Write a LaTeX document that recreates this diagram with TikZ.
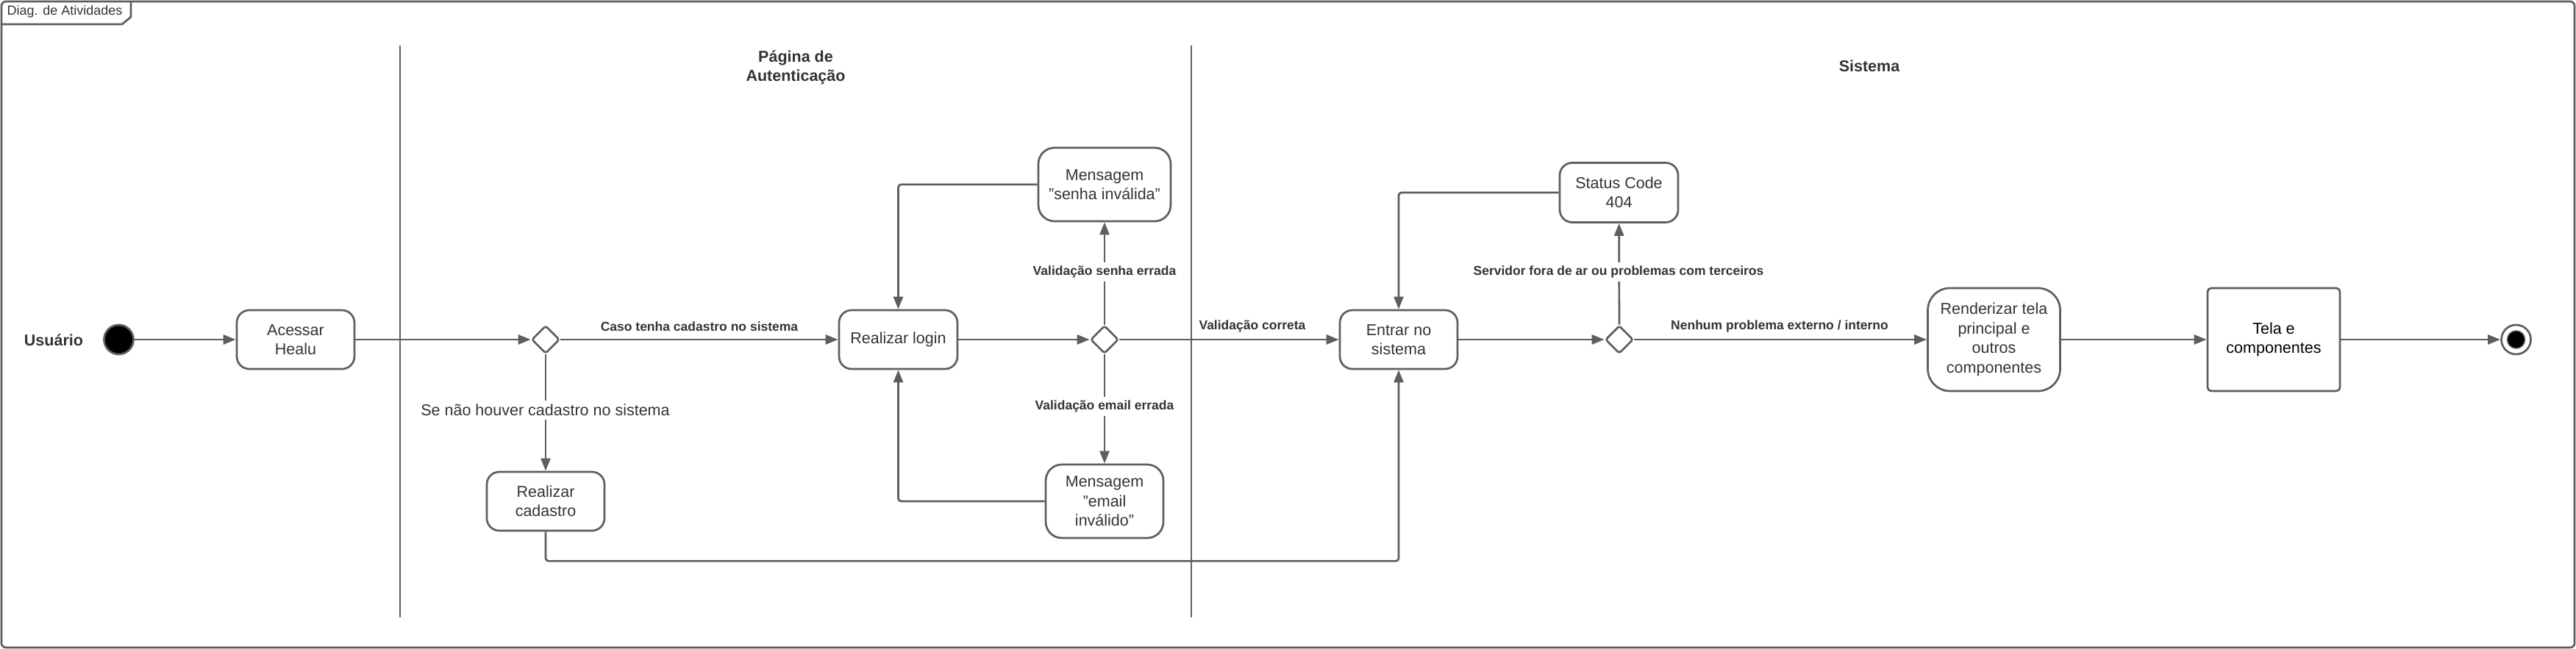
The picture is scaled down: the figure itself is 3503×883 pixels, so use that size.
\documentclass[tikz,border=0pt]{standalone}
\usepackage{fontspec}
\setmainfont{Liberation Sans}
\usetikzlibrary{shapes.geometric,arrows.meta}
\definecolor{ln}{HTML}{5E5E5E}
\definecolor{tx}{HTML}{333333}
\tikzset{
  act/.style={draw=ln, line width=2.7pt, rounded corners=17pt, fill=white, text=tx,
    align=center, inner sep=0pt, minimum width=160pt, minimum height=80pt,
    font=\fontsize{21.5}{26.5}\selectfont},
  dec/.style={diamond, draw=ln, line width=2.7pt, rounded corners=3pt, fill=white,
    minimum width=38pt, minimum height=38pt, inner sep=0pt},
  flow/.style={draw=ln, line width=2.7pt, rounded corners=4pt, -{Triangle[length=17pt,width=13pt]}},
  plain/.style={draw=ln, line width=2.7pt},
  lbl/.style={text=tx, font=\bfseries\fontsize{17.5}{21}\selectfont, inner sep=2pt},
  lblw/.style={lbl, fill=white, inner sep=5pt},
  lane/.style={text=tx, font=\bfseries\fontsize{21.5}{26.5}\selectfont, align=center},
}
\begin{document}
\begin{tikzpicture}[x=1pt,y=-1pt]
\useasboundingbox (0,0) rectangle (3503,883);
% frame
\draw[plain, rounded corners=6pt] (2,2) rectangle (3501,881);
\draw[plain] (2,33) -- (166,33) -- (178,23) -- (178,2);
\node[text=tx, font=\fontsize{18}{21}\selectfont, inner sep=0pt] (tab) at (88,16) {Diag. de Atividades};
% lane dividers
\coordinate (l1t) at (544,62);
\coordinate (l1b) at (544,840);
\coordinate (l2t) at (1620,62);
\coordinate (l2b) at (1620,840);
\draw[plain] (l1t) -- (l1b);
\draw[plain] (l2t) -- (l2b);
% lane titles
\node[lane] (lu) at (73,463) {Usuário};
\node[lane] (la) at (1082,92) {Página de\\Autenticação};
\node[lane] (ls) at (2542,90) {Sistema};
% nodes
\node[circle, fill=black, draw=ln, line width=2.7pt, minimum size=40pt, inner sep=0pt] (start) at (161.5,462) {};
\node[act] (acessar) at (402,462) {Acessar\\Healu};
\node[dec] (d1) at (742,462) {};
\node[act, minimum width=161pt] (login) at (1221.5,462) {Realizar login};
\node[act] (cadastro) at (742,682) {Realizar\\cadastro};
\node[act, minimum width=180pt, minimum height=100pt, rounded corners=22pt] (senha) at (1502,251) {Mensagem\\"senha inválida"};
\node[act, minimum height=100pt, rounded corners=22pt] (email) at (1502,682) {Mensagem\\"email\\inválido"};
\node[dec] (d2) at (1502,462) {};
\node[act] (entrar) at (1902,462) {Entrar no\\sistema};
\node[act, minimum width=161pt, minimum height=81pt] (status) at (2201.5,262) {Status Code\\404};
\node[dec] (d3) at (2202,462) {};
\node[act, minimum width=180pt, minimum height=140pt, rounded corners=30pt] (render) at (2711.5,462) {Renderizar tela\\principal e\\outros\\componentes};
\node[act, minimum width=180pt, minimum height=140pt, rounded corners=5pt, text=black] (tela) at (3092,462) {Tela e\\componentes};
\node[circle, draw=ln, line width=2.7pt, fill=white, minimum size=40pt, inner sep=0pt] (end) at (3421.5,462) {};
\node[circle, fill=black, draw=ln, line width=1.5pt, minimum size=24pt, inner sep=0pt] (endin) at (end) {};
% connectors
\draw[flow] (start) -- (acessar);
\draw[flow] (acessar) -- (d1);
\draw[flow] (d1) -- (login);
\node[lbl] (l1) at (951,444) {Caso tenha cadastro no sistema};
\draw[flow] (d1) -- (cadastro);
\node[lblw, font=\fontsize{21.5}{26}\selectfont, text=tx] (l2) at (741.5,558) {Se não houver cadastro no sistema};
\draw[flow] (login) -- (d2);
\draw[flow] (d2) -- (senha);
\node[lblw] (l3) at (1502,370) {Validação senha errada};
\draw[flow] (d2) -- (email);
\node[lblw] (l4) at (1502,553) {Validação email errada};
\draw[flow] (senha.west) -| (login.north);
\draw[flow] (email.west) -| (login.south);
\draw[flow] (d2) -- (entrar);
\node[lbl] (l5) at (1703,444) {Validação correta};
\draw[flow] (cadastro.south) -- ++(0,40) -| (entrar.south);
\draw[flow] (entrar) -- (d3);
\draw[flow] (d3) -- (status);
\node[lblw] (l6) at (2201,370) {Servidor fora de ar ou problemas com terceiros};
\draw[flow] (status.west) -| (entrar.north);
\draw[flow] (d3) -- (render);
\node[lbl] (l7) at (2420,444) {Nenhum problema externo / interno};
\draw[flow] (render) -- (tela);
\draw[flow] (tela) -- (end);
\end{tikzpicture}
\end{document}
